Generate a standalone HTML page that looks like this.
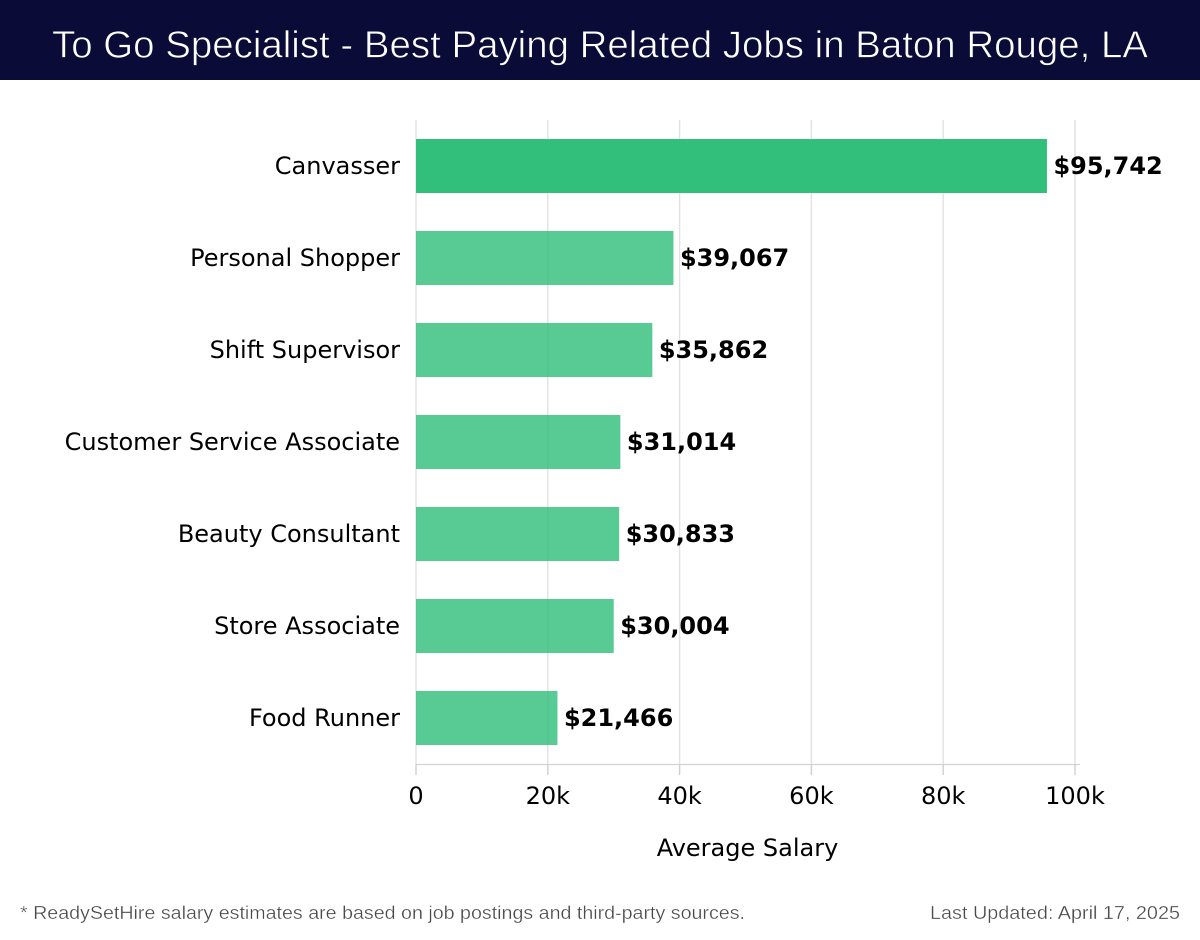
<!DOCTYPE html>
<html lang="en">
<head>
<meta charset="utf-8">
<title>To Go Specialist - Best Paying Related Jobs in Baton Rouge, LA</title>
<style>
html,body{margin:0;padding:0;background:#fff;width:1200px;height:940px;overflow:hidden}
svg{display:block}
text{font-family:"DejaVu Sans",sans-serif}
.ub{font-family:"Liberation Sans",sans-serif}
</style>
</head>
<body>
<svg id="chart" width="1200" height="940" viewBox="0 0 1200 940">
  <rect x="0" y="0" width="1200" height="940" fill="#ffffff"/>
  <rect x="0" y="0" width="1200" height="80" fill="#0b0b38"/>
  <text class="ub" x="52" y="57.5" font-size="38" fill="#ffffff" stroke="#0b0b38" stroke-width="0.7" textLength="1096" lengthAdjust="spacingAndGlyphs">To Go Specialist - Best Paying Related Jobs in Baton Rouge, LA</text>
  <g id="grid"></g>
  <g id="bars"></g>
  <g id="axis"></g>
  <g id="cats"></g>
  <g id="values"></g>
  <text x="747.5" y="856" font-size="24" fill="#000000" text-anchor="middle">Average Salary</text>
  <text class="ub" x="20" y="919" font-size="18.5" fill="#4a4a4a" stroke="#ffffff" stroke-width="0.3" textLength="725" lengthAdjust="spacingAndGlyphs">* ReadySetHire salary estimates are based on job postings and third-party sources.</text>
  <text class="ub" x="930" y="919" font-size="18.5" fill="#4a4a4a" stroke="#ffffff" stroke-width="0.3" textLength="250" lengthAdjust="spacingAndGlyphs">Last Updated: April 17, 2025</text>
</svg>
<script>
const categories = ["Canvasser", "Personal Shopper", "Shift Supervisor", "Customer Service Associate", "Beauty Consultant", "Store Associate", "Food Runner"];
const salaries = [95742, 39067, 35862, 31014, 30833, 30004, 21466];
const tickValues = [0, 20000, 40000, 60000, 80000, 100000];
const tickLabels = ["0", "20k", "40k", "60k", "80k", "100k"];

const NS = "http://www.w3.org/2000/svg";
const plot = { left: 416, right: 1075, top: 120, bottom: 764, max: 100000 };
const barHeight = 54;

function xScale(v) {
  return plot.left + (v / plot.max) * (plot.right - plot.left);
}
function yBand(i) {
  return plot.top + (plot.bottom - plot.top) * (i + 0.5) / categories.length;
}
function make(tag, attrs, parent, text) {
  const el = document.createElementNS(NS, tag);
  for (const k in attrs) el.setAttribute(k, attrs[k]);
  if (text !== undefined) el.textContent = text;
  parent.appendChild(el);
  return el;
}

const gridG = document.getElementById("grid");
const barsG = document.getElementById("bars");
const axisG = document.getElementById("axis");
const catsG = document.getElementById("cats");
const valsG = document.getElementById("values");

tickValues.forEach(function (t, i) {
  const x = xScale(t);
  const g = make("line", { x1: x, x2: x, y1: plot.top, y2: plot.bottom, stroke: "#e2e2e2", "stroke-width": 1.4 }, gridG);
  
  
  const tick = make("line", { x1: x, x2: x, y1: plot.bottom, y2: 775, stroke: "#cfcfcf", "stroke-width": 1.4 }, axisG);
  
  
  const lab = make("text", { x: x, y: 804, "font-size": 24, fill: "#000", "text-anchor": "middle" }, axisG, tickLabels[i]);
  
  
});
const baseLine = make("line", { x1: plot.left, x2: 1080, y1: 764.5, y2: 764.5, stroke: "#d2d2d2", "stroke-width": 1.2 }, axisG);



categories.forEach(function (c, i) {
  const v = salaries[i];
  const cy = yBand(i);
  const bar = make("rect", {
    x: plot.left, y: cy - barHeight / 2,
    width: xScale(v) - plot.left, height: barHeight,
    fill: "#2ebd78",
    "fill-opacity": i === 0 ? 0.98 : 0.8
  }, barsG);
  
  
  const cat = make("text", { x: 400, y: cy + 8, "font-size": 24, fill: "#000", "text-anchor": "end" }, catsG, c);
  
  
  const val = make("text", { x: xScale(v) + 6.5, y: cy + 8, "font-size": 24, "font-weight": "bold", fill: "#000" }, valsG, "$" + v.toLocaleString("en-US"));
  
  
});
</script>
</body>
</html>
